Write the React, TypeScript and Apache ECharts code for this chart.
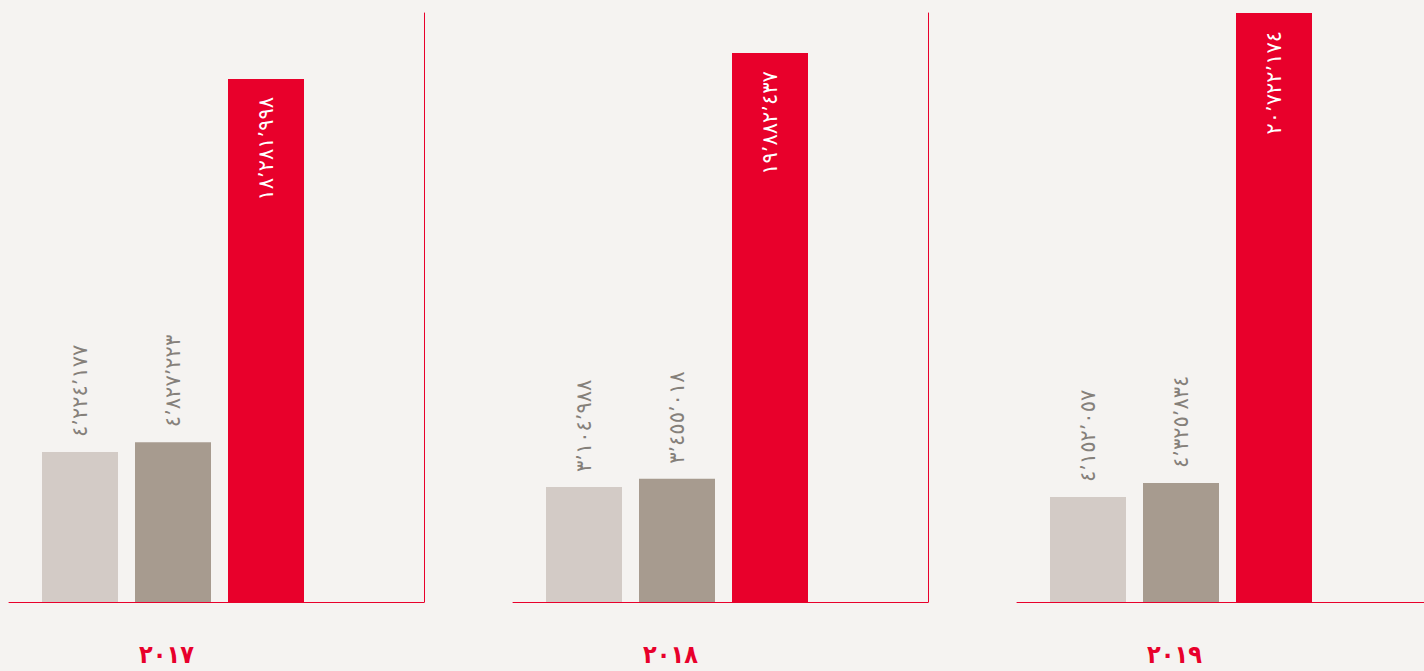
import React, { useEffect, useRef } from 'react';
import * as echarts from 'echarts';

const years = ['٢٠١٧', '٢٠١٨', '٢٠١٩'];
const categories = ['light', 'dark', 'red'];
const lightValues = [5.35, 4.1, 3.74];
const darkValues = [5.7, 4.39, 4.24];
const redValues = [18.65, 19.57, 21.0];
const lightLabels = ['٤٬٢٢٤٬١٧٧', '٣٬١٠٤٬٩٨٨', '٤٬١٥٢٬٠٥٧'];
const darkLabels = ['٤٬٨٢٧٬٢٢٣', '٣٬٤٥٥٬٠١٨', '٤٬٣٢٥٬٨٣٤'];
const redLabels = ['١٨٬٢٨١٬٩٩٨', '١٩٬٨٨٢٬٤٣٧', '٢٠٬٧٢٢٬١٧٤'];

const RED = '#e8002b';
const LIGHT = '#d3cbc6';
const DARK = '#a79b8f';
const BG = '#f5f3f1';
const FONT = '"DejaVu Sans", sans-serif';

export default function App() {
  const ref = useRef<HTMLDivElement>(null);
  useEffect(() => {
    if (!ref.current) return;
    const chart = echarts.init(ref.current, undefined, { renderer: 'svg' });
    const grid: any[] = [];
    const xAxis: any[] = [];
    const yAxis: any[] = [];
    const series: any[] = [];
    const graphic: any[] = [];
    years.forEach((year, i) => {
      const off = 504 * i;
      // frame grid (axis lines)
      grid.push({ left: 9 + off, top: 13, width: 415, height: 589 });
      xAxis.push({
        gridIndex: 2 * i, type: 'category', data: [''],
        axisLine: { show: true, lineStyle: { color: RED, width: 1 } },
        axisTick: { show: false }, axisLabel: { show: false }, splitLine: { show: false },
      });
      yAxis.push({
        gridIndex: 2 * i, type: 'value', position: 'right', min: 0, max: 1,
        axisLine: { show: true, lineStyle: { color: RED, width: 1 } },
        axisTick: { show: false }, axisLabel: { show: false }, splitLine: { show: false },
      });
      // bars grid
      grid.push({ left: 33.5 + off, top: 13, width: 372, height: 589 });
      xAxis.push({
        gridIndex: 2 * i + 1, type: 'category', data: [...categories, ''], show: false,
      });
      yAxis.push({
        gridIndex: 2 * i + 1, type: 'value', min: 0, max: 21, show: false,
      });
      const grayLabel = (text: string) => ({
        show: true, position: 'top', rotate: 90, align: 'left', verticalAlign: 'middle',
        distance: 15, color: '#85807a', fontSize: 21, fontFamily: FONT, formatter: text,
      });
      series.push({
        type: 'bar', xAxisIndex: 2 * i + 1, yAxisIndex: 2 * i + 1, barWidth: 76,
        data: [
          { value: lightValues[i], itemStyle: { color: LIGHT }, label: grayLabel(lightLabels[i]) },
          { value: darkValues[i], itemStyle: { color: DARK }, label: grayLabel(darkLabels[i]) },
          {
            value: redValues[i], itemStyle: { color: RED },
            label: {
              show: true, position: 'insideTop', rotate: 90, align: 'right', verticalAlign: 'middle',
              distance: 18, color: '#ffffff', fontSize: 21, fontFamily: FONT, formatter: redLabels[i],
            },
          },
        ],
      });
      graphic.push({
        type: 'text', x: 166.5 + off, y: 654,
        style: {
          text: year, textAlign: 'center', textVerticalAlign: 'middle',
          fill: RED, font: 'bold 25px "DejaVu Sans Condensed", "DejaVu Sans", sans-serif',
        },
      });
    });
    chart.setOption({
      animation: false,
      backgroundColor: BG,
      grid, xAxis, yAxis, series, graphic,
    });
    return () => chart.dispose();
  }, []);
  return <div ref={ref} style={{ position: 'fixed', left: 0, top: 0, width: 1424, height: 671 }} />;
}
